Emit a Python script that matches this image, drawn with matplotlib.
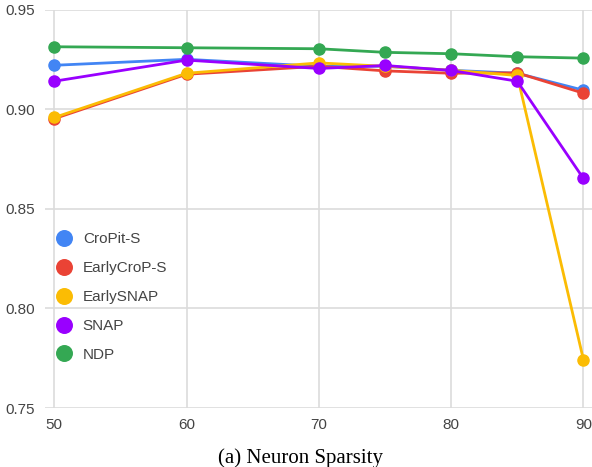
import matplotlib.pyplot as plt

sparsity = [50, 60, 70, 75, 80, 85, 90]

cropit_s = [0.922, 0.925, 0.9215, 0.9215, 0.9195, 0.918, 0.9095]
earlycrop_s = [0.8952, 0.9175, 0.9215, 0.9192, 0.918, 0.9182, 0.908]
earlysnap = [0.8958, 0.918, 0.9232, 0.9215, 0.9195, 0.9169, 0.7743]
snap = [0.914, 0.9246, 0.9204, 0.9219, 0.9194, 0.914, 0.8652]
ndp = [0.9313, 0.9308, 0.9303, 0.9285, 0.9278, 0.9263, 0.9256]

names = ["CroPit-S", "EarlyCroP-S", "EarlySNAP", "SNAP", "NDP"]
series = [cropit_s, earlycrop_s, earlysnap, snap, ndp]
colors = ["#4285F4", "#EA4335", "#FBBC04", "#9900FF", "#34A853"]

y_ticks = [0.75, 0.80, 0.85, 0.90, 0.95]
x_ticks = [50, 60, 70, 80, 90]

fig = plt.figure(figsize=(5.92, 4.67), dpi=100)
ax = fig.add_axes([45 / 592, 1 - 408 / 467, 547 / 592, (408 - 9.5) / 467])

for name, vals, c in zip(names, series, colors):
    ax.plot(sparsity, vals, color=c, lw=2, marker="o", ms=8, label=name,
            clip_on=False)

ax.set_xlim(49.3, 90.65)
ax.set_ylim(0.75, 0.95)
ax.set_xticks(x_ticks)
ax.set_yticks(y_ticks)
ax.set_yticklabels([f"{v:.2f}" for v in y_ticks])
ax.grid(True, color="#dcdcdc", lw=1.2)
ax.set_axisbelow(True)
for s in ax.spines.values():
    s.set_visible(False)
ax.tick_params(length=0, labelsize=11, colors="#444444", pad=7)
for lab in ax.get_xticklabels() + ax.get_yticklabels():
    lab.set_fontfamily("Liberation Sans")

leg = ax.legend(loc="upper left", bbox_to_anchor=(0.002, 0.475), frameon=False,
                prop={"family": "Liberation Sans", "size": 11},
                handlelength=0.6, handletextpad=0.9, labelspacing=0.97,
                markerscale=1.4)
for h in leg.legend_handles:
    h.set_linestyle("None")
for t in leg.get_texts():
    t.set_color("#444444")

fig.text(300 / 592, 1 - 458 / 467, "(a) Neuron Sparsity", ha="center",
         va="center", fontsize=15, family="Liberation Serif")

fig.savefig("out.png", dpi=100)
